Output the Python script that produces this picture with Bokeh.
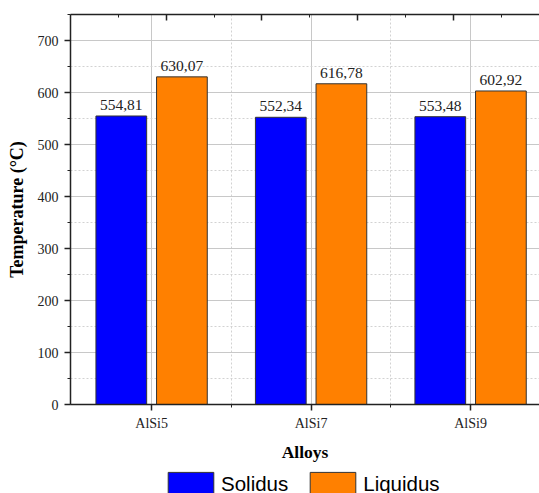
from bokeh.plotting import figure
from bokeh.layouts import column
from bokeh.models import (ColumnDataSource, Range1d, FixedTicker, SingleIntervalTicker,
                          LinearAxis, Legend, LegendItem, LabelSet)
from bokeh.transform import dodge
from bokeh.embed import file_html
from bokeh.resources import INLINE

# ---- data ----
alloys = ["AlSi5", "AlSi7", "AlSi9"]
solidus = [554.81, 552.34, 553.48]
liquidus = [630.07, 616.78, 602.92]
series_names = ["Solidus", "Liquidus"]
series_colors = ["#0000ff", "#ff8000"]
x_title = "Alloys"
y_title = "Temperature (°C)"

positions = [i + 1 for i in range(len(alloys))]
mids = [p_ + 0.5 for p_ in positions[:-1]]


def fmt(v):
    return f"{v:.2f}".replace(".", ",")


src = ColumnDataSource(dict(
    x=positions,
    solidus=solidus,
    liquidus=liquidus,
    sol_lab=[fmt(v) for v in solidus],
    liq_lab=[fmt(v) for v in liquidus],
))

SERIF = "Liberation Serif"
SANS = "Liberation Sans"
DARK = "#222222"
W = 539

p = figure(width=W, height=468, output_backend="svg", toolbar_location=None,
           x_range=Range1d(0.4915, 3.432), y_range=Range1d(0, 750),
           min_border_left=70, min_border_top=14, min_border_right=0,
           min_border_bottom=64)
p.outline_line_color = None
p.background_fill_color = "white"
p.border_fill_color = "white"

off = 0.19
bw = 0.318
bar_kw = dict(width=bw, source=src, line_color="#333333", line_width=1)
r1 = p.vbar(x=dodge("x", -off, range=p.x_range), top="solidus",
            fill_color=series_colors[0], **bar_kw)
r2 = p.vbar(x=dodge("x", off, range=p.x_range), top="liquidus",
            fill_color=series_colors[1], **bar_kw)

for col, lab, sgn in (("solidus", "sol_lab", -1), ("liquidus", "liq_lab", 1)):
    p.add_layout(LabelSet(x=dodge("x", sgn * off, range=p.x_range), y=col, text=lab,
                          source=src, text_align="center", text_baseline="alphabetic",
                          y_offset=6, text_font=SERIF, text_font_size="15.5px",
                          text_color=DARK))

# ---- axes ----
xa = p.xaxis[0]
xa.ticker = FixedTicker(ticks=positions, minor_ticks=mids)
xa.major_label_overrides = {pos: name for pos, name in zip(positions, alloys)}
ya = p.yaxis[0]
ya.ticker = SingleIntervalTicker(interval=100, num_minor_ticks=2)

for ax in (xa, ya):
    ax.axis_line_color = DARK
    ax.axis_line_width = 1.5
    ax.major_tick_line_color = DARK
    ax.minor_tick_line_color = DARK
    ax.major_tick_line_width = 1.5
    ax.minor_tick_line_width = 1
    ax.major_tick_in = 0
    ax.major_tick_out = 6
    ax.minor_tick_in = 0
    ax.minor_tick_out = 3
    ax.major_label_text_font = SERIF
    ax.major_label_text_font_size = "14px"
    ax.major_label_text_color = DARK
    ax.axis_label_text_font = SERIF
    ax.axis_label_text_font_style = "bold"
    ax.axis_label_text_color = "black"

xa.axis_label = x_title
xa.axis_label_text_font_size = "17.5px"
xa.major_label_standoff = 5
xa.axis_label_standoff = 8
ya.axis_label = y_title
ya.axis_label_text_font_size = "18px"
ya.major_label_standoff = 6
ya.axis_label_standoff = 8

p.extra_x_ranges = {"top": Range1d(0, 9.8)}
top = LinearAxis(x_range_name="top",
                 ticker=FixedTicker(ticks=[2, 4, 6, 8], minor_ticks=[1, 3, 5, 7, 9]),
                 major_label_overrides={t: "" for t in [2, 4, 6, 8]},
                 major_label_text_font_size="1px", major_label_standoff=0,
                 major_tick_in=6, major_tick_out=0, minor_tick_in=3, minor_tick_out=0,
                 axis_line_color=DARK, axis_line_width=1.5,
                 major_tick_line_color=DARK, minor_tick_line_color=DARK,
                 major_tick_line_width=1.5)
p.add_layout(top, "above")

# ---- grids ----
for g in (p.xgrid[0], p.ygrid[0]):
    g.grid_line_color = "#c8c8c8"
    g.grid_line_width = 1
    g.minor_grid_line_color = "#d2d2d2"
    g.minor_grid_line_dash = "2 2"
    g.minor_grid_line_width = 1

# ---- legend (own strip below the chart; its bars sit outside its view) ----
lg = figure(width=W, height=25, output_backend="svg", toolbar_location=None,
            x_range=Range1d(-100, -99), y_range=Range1d(-2, -1),
            x_axis_type=None, y_axis_type=None,
            min_border=0, min_border_left=0, min_border_right=0,
            min_border_top=0, min_border_bottom=0)
lg.grid.visible = False
lg.outline_line_color = None
lg.background_fill_color = "white"
lg.border_fill_color = "white"
l1 = lg.vbar(x="x", top="solidus", fill_color=series_colors[0], **bar_kw)
l2 = lg.vbar(x="x", top="liquidus", fill_color=series_colors[1], **bar_kw)
legend = Legend(items=[LegendItem(label=series_names[0], renderers=[l1]),
                       LegendItem(label=series_names[1], renderers=[l2])],
                orientation="horizontal", location=(92, -5),
                border_line_color=None, background_fill_alpha=0,
                glyph_width=57, glyph_height=29, label_standoff=2, spacing=16,
                label_text_font=SANS, label_text_font_size="20.5px",
                label_text_color="black", margin=0, padding=0)
lg.add_layout(legend)

layout = column(p, lg, spacing=0)
open("out.html", "w").write(file_html(layout, INLINE))
